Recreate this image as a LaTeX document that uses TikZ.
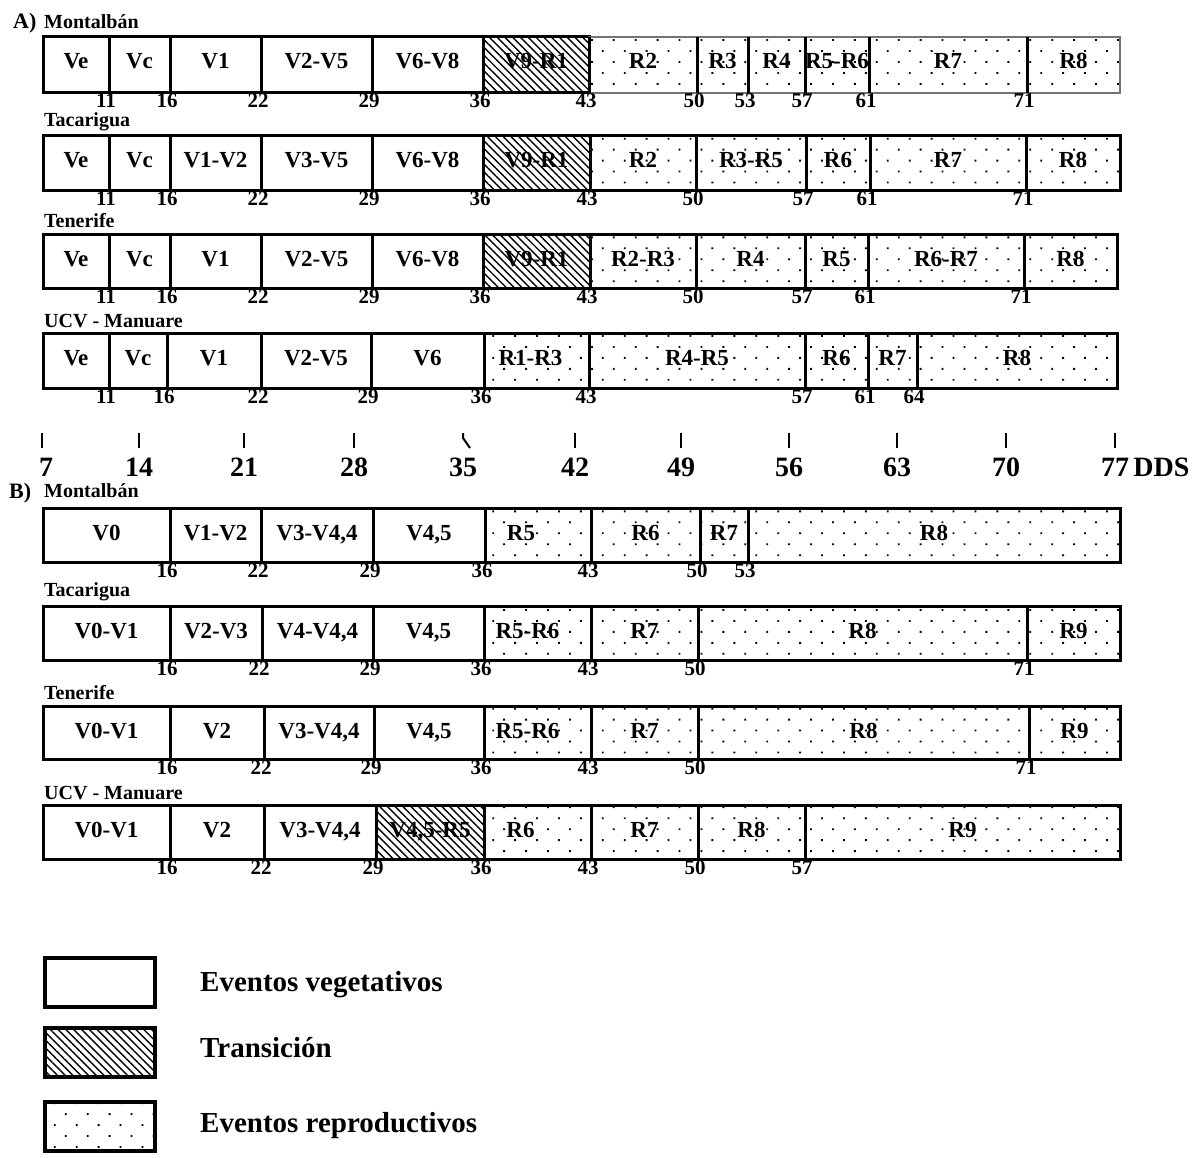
\documentclass[tikz,border=0pt]{standalone}
\usepackage{fontspec}
\setmainfont{Liberation Serif}
\usetikzlibrary{patterns.meta}
\newcounter{segc}
\tikzset{
  veg/.style={draw=black,line width=3pt,fill=white},
  trans/.style={draw=black,line width=3pt,pattern={Lines[angle=-45,distance=5.5pt,line width=1.4pt]}},
  rep/.style={draw=black,line width=3pt,pattern={Dots[angle=45,distance=15.5pt,radius=1.3pt]}},
  repthin/.style={draw=black!55,line width=1.2pt,pattern={Dots[angle=45,distance=15.5pt,radius=1.3pt]}},
  sep/.style={draw=black,line width=3pt},
  lbl/.style={font=\fontsize{23}{23}\selectfont\bfseries,anchor=base,inner sep=0pt},
  num/.style={font=\fontsize{21}{21}\selectfont\bfseries,anchor=base,inner sep=0pt},
  ttl/.style={font=\fontsize{20}{20}\selectfont\bfseries,anchor=base west,inner sep=0pt},
  part/.style={font=\fontsize{22}{22}\selectfont\bfseries,anchor=base west,inner sep=0pt},
  axn/.style={font=\fontsize{28}{28}\selectfont\bfseries,anchor=base,inner sep=0pt},
  tickline/.style={draw=black,line width=2pt},
  leg/.style={font=\fontsize{29}{29}\selectfont\bfseries,anchor=base west,inner sep=0pt},
  legbox/.style={line width=4pt}
}
% \sg[label shift]{x1}{x2}{style}{label}
\newcommand{\sg}[5][0]{%
  \stepcounter{segc}%
  \path[#4] (#2,\rt) rectangle (#3,\rb);
  \node[lbl] (s\arabic{segc}) at ({(#2+#3)/2+#1},{\rt+32}) {#5};
}
\newcommand{\nums}[1]{%
  \foreach \x/\t in {#1} {\stepcounter{segc}\node[num] (n\arabic{segc}) at ({\x-3},{\rb+15}) {\t};}
}
\begin{document}
\begin{tikzpicture}[x=1pt,y=-1pt]
\useasboundingbox (0,0) rectangle (1197,1158);

% ---------------- A ----------------
\node[part] (pa) at (13,29) {A)};
\node[ttl] (ta1) at (44,29) {Montalbán};
\def\rt{37}\def\rb{93}
\sg{43}{109}{veg}{Ve}
\sg{109}{170}{veg}{Vc}
\sg{170}{261}{veg}{V1}
\sg{261}{372}{veg}{V2-V5}
\sg{372}{483}{veg}{V6-V8}
\sg{483}{589}{trans}{V9-R1}
\sg{589}{697}{repthin}{R2}
\sg{697}{748}{repthin}{R3}
\sg{748}{805}{repthin}{R4}
\sg{805}{869}{repthin}{R5-R6}
\sg{869}{1027}{repthin}{R7}
\sg{1027}{1120}{repthin}{R8}
\foreach \x in {589,697,748,805,869,1027} {\draw[sep] (\x,\rt) -- (\x,\rb);}
\nums{109/11,170/16,261/22,372/29,483/36,589/43,697/50,748/53,805/57,869/61,1027/71}

\node[ttl] (ta2) at (44,127) {Tacarigua};
\def\rt{136}\def\rb{191}
\sg{43}{109}{veg}{Ve}
\sg{109}{170}{veg}{Vc}
\sg{170}{261}{veg}{V1-V2}
\sg{261}{372}{veg}{V3-V5}
\sg{372}{483}{veg}{V6-V8}
\sg{483}{590}{trans}{V9-R1}
\sg{590}{696}{rep}{R2}
\sg{696}{806}{rep}{R3-R5}
\sg{806}{870}{rep}{R6}
\sg{870}{1026}{rep}{R7}
\sg{1026}{1120}{rep}{R8}
\nums{109/11,170/16,261/22,372/29,483/36,590/43,696/50,806/57,870/61,1026/71}

\node[ttl] (ta3) at (44,228) {Tenerife};
\def\rt{235}\def\rb{289}
\sg{43}{109}{veg}{Ve}
\sg{109}{170}{veg}{Vc}
\sg{170}{261}{veg}{V1}
\sg{261}{372}{veg}{V2-V5}
\sg{372}{483}{veg}{V6-V8}
\sg{483}{590}{trans}{V9-R1}
\sg{590}{696}{rep}{R2-R3}
\sg{696}{805}{rep}{R4}
\sg{805}{868}{rep}{R5}
\sg{868}{1024}{rep}{R6-R7}
\sg{1024}{1117}{rep}{R8}
\nums{109/11,170/16,261/22,372/29,483/36,590/43,696/50,805/57,868/61,1024/71}

\node[ttl] (ta4) at (44,328) {UCV - Manuare};
\def\rt{334}\def\rb{388}
\sg{43}{109}{veg}{Ve}
\sg{109}{167}{veg}{Vc}
\sg{167}{261}{veg}{V1}
\sg{261}{371}{veg}{V2-V5}
\sg{371}{484}{veg}{V6}
\sg[-6]{484}{589}{rep}{R1-R3}
\sg{589}{805}{rep}{R4-R5}
\sg{805}{868}{rep}{R6}
\sg{868}{917}{rep}{R7}
\sg{917}{1117}{rep}{R8}
\nums{109/11,167/16,261/22,371/29,484/36,589/43,805/57,868/61,917/64}

% ---------------- axis ----------------
\foreach \x/\t in {139/14,244/21,354/28,575/42,681/49,789/56,897/63,1006/70,1115/77} {
  \draw[tickline] (\x,433) -- (\x,448);
  \node[axn] (ax\t) at (\x,476) {\t};
}
\draw[tickline] (42,433) -- (42,448);
\node[axn] (ax7) at (46,476) {7};
\draw[tickline] (463,433) -- (463,438) -- (470,448);
\node[axn] (ax35) at (463,476) {35};
\node[axn,anchor=base west] (dds) at ([xshift=4pt]ax77.base east) {DDS};

% ---------------- B ----------------
\node[part] (pb) at (9,498) {B)};
\node[ttl] (tb1) at (44,497) {Montalbán};
\def\rt{508}\def\rb{562}
\sg{43}{170}{veg}{V0}
\sg{170}{261}{veg}{V1-V2}
\sg{261}{373}{veg}{V3-V4,4}
\sg{373}{485}{veg}{V4,5}
\sg[-17]{485}{591}{rep}{R5}
\sg{591}{700}{rep}{R6}
\sg{700}{748}{rep}{R7}
\sg{748}{1120}{rep}{R8}
\nums{170/16,261/22,373/29,485/36,591/43,700/50,748/53}

\node[ttl] (tb2) at (44,596) {Tacarigua};
\def\rt{606}\def\rb{660}
\sg{43}{170}{veg}{V0-V1}
\sg{170}{262}{veg}{V2-V3}
\sg{262}{373}{veg}{V4-V4,4}
\sg{373}{484}{veg}{V4,5}
\sg[-10]{484}{591}{rep}{R5-R6}
\sg{591}{698}{rep}{R7}
\sg{698}{1027}{rep}{R8}
\sg{1027}{1120}{rep}{R9}
\nums{170/16,262/22,373/29,484/36,591/43,698/50,1027/71}

\node[ttl] (tb3) at (44,699) {Tenerife};
\def\rt{706}\def\rb{759}
\sg{43}{170}{veg}{V0-V1}
\sg{170}{264}{veg}{V2}
\sg{264}{374}{veg}{V3-V4,4}
\sg{374}{484}{veg}{V4,5}
\sg[-10]{484}{591}{rep}{R5-R6}
\sg{591}{698}{rep}{R7}
\sg{698}{1029}{rep}{R8}
\sg{1029}{1120}{rep}{R9}
\nums{170/16,264/22,374/29,484/36,591/43,698/50,1029/71}

\node[ttl] (tb4) at (44,799) {UCV - Manuare};
\def\rt{805}\def\rb{859}
\sg{43}{170}{veg}{V0-V1}
\sg{170}{264}{veg}{V2}
\sg{264}{376}{veg}{V3-V4,4}
\sg{376}{484}{trans}{V4,5-R5}
\sg[-17]{484}{591}{rep}{R6}
\sg{591}{698}{rep}{R7}
\sg{698}{805}{rep}{R8}
\sg{805}{1120}{rep}{R9}
\nums{170/16,264/22,376/29,484/36,591/43,698/50,805/57}

% ---------------- legend ----------------
\path[veg,legbox] (45,958) rectangle (155,1007);
\node[leg] (l1) at (200,991) {Eventos vegetativos};
\path[trans,legbox] (45,1028) rectangle (155,1077);
\node[leg] (l2) at (200,1057) {Transición};
\path[rep,legbox] (45,1102) rectangle (155,1151);
\node[leg] (l3) at (200,1132) {Eventos reproductivos};
\end{tikzpicture}
\end{document}
